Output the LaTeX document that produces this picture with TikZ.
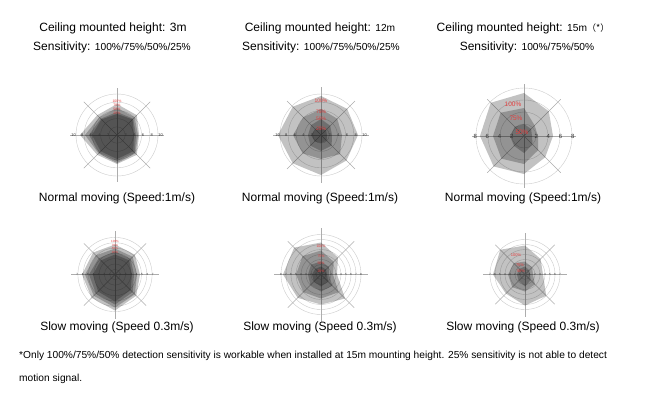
\documentclass[tikz,border=0pt]{standalone}
\usepackage{fontspec}
\setmainfont{Liberation Sans}
\newfontfamily\cjkfont{Noto Sans CJK SC}
\definecolor{pctred}{RGB}{228,62,62}
\newcommand{\numsz}{\fontsize{10.2}{12}\selectfont}
\tikzset{
  ring/.style={draw=black!20, line width=0.4pt},
  axisln/.style={draw=black!32, line width=0.4pt},
  layer/.style={fill=black, fill opacity=0.24},
  pct/.style={text=pctred, inner sep=0pt, font=\fontsize{#1}{#1}\selectfont},
  tck/.style={inner sep=0pt, text=black!80, font=\fontsize{#1}{#1}\selectfont},
  title/.style={inner sep=0pt, anchor=base, font=\fontsize{12}{14}\selectfont},
  foot/.style={inner sep=0pt, anchor=base west, font=\fontsize{10.2}{12}\selectfont},
}
\newcommand{\octfill}[8]{\fill[layer] (90:#1pt) -- (45:#2pt) -- (0:#3pt) -- (-45:#4pt) -- (-90:#5pt) -- (-135:#6pt) -- (180:#7pt) -- (135:#8pt) -- cycle;}
\newcommand{\chartgrid}[3]{%
  \foreach \v in {#2} \draw[ring] (0,0) circle[radius=\v*#1pt];
  \foreach \a in {0,45,...,315} \draw[axisln] (0,0) -- (\a:#3pt);
}
\begin{document}
\begin{tikzpicture}[x=1pt,y=1pt]
\useasboundingbox (0,0) rectangle (650,-402);
\fill[white] (0,0) rectangle (650,-402);

% ---------- headings ----------
\node[title] (h1) at (113,-31.3) {Ceiling mounted height: 3m};
\node[title] (s1) at (112,-50.3) {Sensitivity: {\numsz 100\%/75\%/50\%/25\%}};
\node[title] (h2) at (320,-31.3) {Ceiling mounted height: {\numsz 12m}};
\node[title] (s2) at (321,-50.3) {Sensitivity: {\numsz 100\%/75\%/50\%/25\%}};
\node[title] (h3) at (523,-31.3) {Ceiling mounted height: {\numsz 15m}{\cjkfont\fontsize{9}{10}\selectfont （*）}};
\node[title] (s3) at (527,-50.3) {Sensitivity: {\numsz 100\%/75\%/50\%}};

% ---------- chart A ----------
\begin{scope}[shift={(117,-135)}]
  \chartgrid{4.1}{2,4,6,8,10}{47}
  \octfill{31}{28}{22}{28}{29}{28}{37}{28}
  \octfill{27}{25}{21}{26}{28}{26}{32}{25}
  \octfill{23}{23}{19}{25}{26}{25}{28}{23}
  \octfill{21}{22}{17}{23}{24}{23}{25}{22}
  \foreach \v in {2,4,6,8,10} {\node[tck=4] (ta\v) at (\v*4.35pt,0) {\v}; \node[tck=4] (ua\v) at (-\v*4.35pt,0) {\v};}
  \node[pct=3.5] (pa1) at (0,34) {100\%};
  \node[pct=3.5] (pa2) at (0,30) {75\%};
  \node[pct=3.5] (pa3) at (0,26) {50\%};
  \node[pct=3.5] (pa4) at (0,22) {25\%};
\end{scope}

% ---------- chart B ----------
\begin{scope}[shift={(321,-135)}]
  \chartgrid{4.1}{2,4,6,8,10}{48}
  \octfill{39}{37}{37}{36}{40}{40}{43}{40}
  \octfill{26}{23}{21}{27}{24}{26}{28}{25}
  \octfill{16}{13}{11}{15}{16}{15}{13}{14}
  \octfill{7}{7}{6}{8}{8}{9}{10}{8}
  \foreach \v in {2,4,6,8,10} {\node[tck=4] (tb\v) at (\v*4.35pt,0) {\v}; \node[tck=4] (ub\v) at (-\v*4.35pt,0) {\v};}
  \node[pct=5] (pb1) at (0,34) {100\%};
  \node[pct=5] (pb2) at (0,23) {75\%};
  \node[pct=5] (pb3) at (0,16) {50\%};
  \node[pct=5] (pb4) at (0,6) {25\%};
\end{scope}

% ---------- chart C ----------
\begin{scope}[shift={(524,-136)}]
  \chartgrid{6}{2,4,6,8}{52}
  \octfill{43}{35}{29}{30}{38}{43}{44}{47}
  \octfill{28}{15}{14}{20}{28}{32}{31}{33}
  \octfill{12}{10}{8}{12}{17}{14}{14}{13}
  \foreach \v in {2,4,6,8} {\node[tck=6] (tc\v) at (\v*6.1pt,0) {\v}; \node[tck=6] (uc\v) at (-\v*6.1pt,0) {\v};}
  \node[pct=6.5] (pc1) at (-11,32) {100\%};
  \node[pct=6.5] (pc2) at (-8,18) {75\%};
  \node[pct=6.5] (pc3) at (-2,4) {50\%};
\end{scope}

% ---------- chart D ----------
\begin{scope}[shift={(115,-274.5)}]
  \chartgrid{5.3}{1,2,3,4,5,6,7}{44}
  \octfill{30}{28}{25}{30}{36}{33}{33}{31}
  \octfill{26}{25}{22}{28}{33}{30}{30}{27}
  \octfill{23}{22}{19}{25}{30}{27}{26}{23}
  \octfill{20}{20}{17}{22}{27}{24}{22}{20}
  \foreach \v in {1,...,7} {\node[tck=3] (td\v) at (\v*5.4pt,0) {\v}; \node[tck=3] (ud\v) at (-\v*5.4pt,0) {\v};}
  \node[pct=3] (pd1) at (0,33) {100\%};
  \node[pct=3] (pd2) at (0,29) {75\%};
  \node[pct=3] (pd3) at (0,26) {50\%};
  \node[pct=3] (pd4) at (0,22) {25\%};
\end{scope}

% ---------- chart E ----------
\begin{scope}[shift={(321,-274.5)}]
  \chartgrid{5}{1,2,3,4,5,6,7,8}{47}
  \octfill{32}{24}{16}{34}{30}{33}{38}{38}
  \octfill{24}{18}{12}{25}{24}{25}{25}{26}
  \octfill{13}{11}{8}{16}{17}{15}{13}{14}
  \octfill{8}{7}{6}{10}{12}{10}{9}{8}
  \foreach \v in {1,...,8} {\node[tck=3] (te\v) at (\v*5pt,0) {\v}; \node[tck=3] (ue\v) at (-\v*5pt,0) {\v};}
  \node[pct=3.5] (pe1) at (0,28.7) {100\%};
  \node[pct=3.5] (pe2) at (0,18.7) {75\%};
  \node[pct=3.5] (pe3) at (0,11) {50\%};
  \node[pct=3.5] (pe4) at (0,3.7) {25\%};
\end{scope}

% ---------- chart F ----------
\begin{scope}[shift={(525,-274.5)}]
  \chartgrid{5}{1,2,3,4,5,6,7}{42}
  \octfill{29}{22}{18}{30}{31}{27}{32}{35}
  \octfill{13}{10}{8}{14}{17}{18}{17}{16}
  \octfill{8}{6}{5}{8}{12}{9}{8}{8}
  \foreach \v in {1,...,7} {\node[tck=3] (tf\v) at (\v*5pt,0) {\v}; \node[tck=3] (uf\v) at (-\v*5pt,0) {\v};}
  \node[pct=4] (pf1) at (-9,19) {100\%};
  \node[pct=4] (pf2) at (-5,9) {75\%};
  \node[pct=4] (pf3) at (-4,3) {50\%};
\end{scope}

% ---------- captions ----------
\node[title] (n1) at (117,-201.5) {Normal moving (Speed:1m/s)};
\node[title] (n2) at (320,-201.5) {Normal moving (Speed:1m/s)};
\node[title] (n3) at (523,-201.5) {Normal moving (Speed:1m/s)};
\node[title] (w1) at (117,-330.5) {Slow moving (Speed 0.3m/s)};
\node[title] (w2) at (320,-330.5) {Slow moving (Speed 0.3m/s)};
\node[title] (w3) at (523,-330.5) {Slow moving (Speed 0.3m/s)};

% ---------- footnote ----------
\node[foot] (f1) at (19,-358.5) {*Only 100\%/75\%/50\% detection sensitivity is workable when installed at 15m mounting height. 25\% sensitivity is not able to detect};
\node[foot] (f2) at (19,-381) {motion signal.};
\end{tikzpicture}
\end{document}
